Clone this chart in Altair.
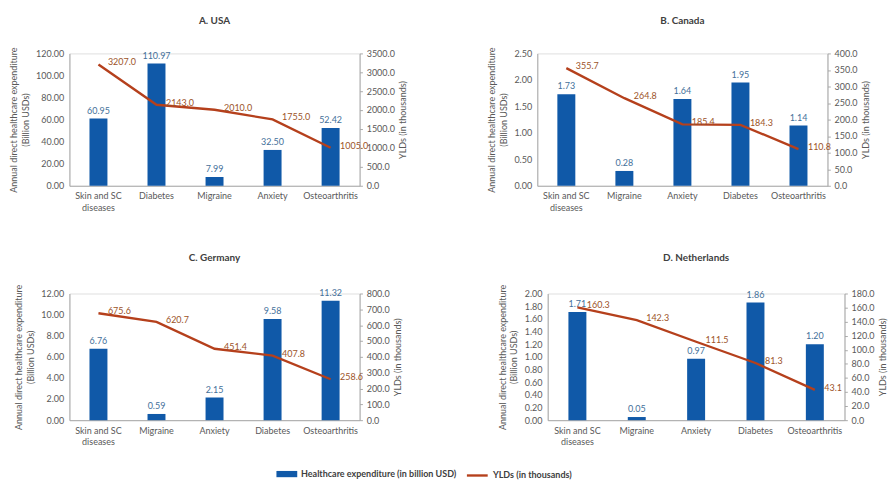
import altair as alt
import pandas as pd

# ---- data ----
titles = ["A. USA", "B. Canada", "C. Germany", "D. Netherlands"]

usa_cats = ["Skin and SC diseases", "Diabetes", "Migraine", "Anxiety", "Osteoarthritis"]
usa_exp = [60.95, 110.97, 7.99, 32.50, 52.42]
usa_yld = [3207.0, 2143.0, 2010.0, 1755.0, 1005.0]

can_cats = ["Skin and SC diseases", "Migraine", "Anxiety", "Diabetes", "Osteoarthritis"]
can_exp = [1.73, 0.28, 1.64, 1.95, 1.14]
can_yld = [355.7, 264.8, 185.4, 184.3, 110.8]

ger_cats = ["Skin and SC diseases", "Migraine", "Anxiety", "Diabetes", "Osteoarthritis"]
ger_exp = [6.76, 0.59, 2.15, 9.58, 11.32]
ger_yld = [675.6, 620.7, 451.4, 407.8, 258.6]

net_cats = ["Skin and SC diseases", "Migraine", "Anxiety", "Diabetes", "Osteoarthritis"]
net_exp = [1.71, 0.05, 0.97, 1.86, 1.20]
net_yld = [160.3, 142.3, 111.5, 81.3, 43.1]

# axis ranges (max, step) for left and right axes
left_axes = [(120, 20), (2.5, 0.5), (12, 2), (2.0, 0.2)]
right_axes = [(3500, 500), (400, 50), (800, 100), (180, 20)]

series_names = ["Healthcare expenditure (in billion USD)", "YLDs (in thousands)"]

BAR = "#1059A8"
LINE = "#B5401C"
GREY = "#595959"
FONT = "Lato"

label_expr = "datum.label == 'Skin and SC diseases' ? ['Skin and SC', 'diseases'] : datum.label"

fill_scale = alt.Scale(domain=[series_names[0]], range=[BAR])
stroke_scale = alt.Scale(domain=[series_names[1]], range=[LINE])


def ticks(mx, step):
    n = int(round(mx / step))
    return [round(i * step, 4) for i in range(n + 1)]


def panel(title, cats, exp, yld, left, right, width, height):
    df = pd.DataFrame({"cat": cats, "exp": exp, "yld": yld})
    x = alt.X("cat:N", sort=cats, title=None,
              scale=alt.Scale(paddingInner=0, paddingOuter=0),
              axis=alt.Axis(labelAngle=0, labelExpr=label_expr, ticks=False,
                            domainColor="#A6A6A6", labelColor=GREY, labelFontSize=9.5,
                            labelFont=FONT, labelPadding=6, labelLineHeight=12))
    yl = alt.Y("exp:Q", title=["Annual direct healthcare expenditure", "(Billion USDs)"],
               scale=alt.Scale(domain=[0, left[0]], nice=False),
               axis=alt.Axis(values=ticks(*left), format=".2f", grid=False, ticks=False,
                             domainColor="#A6A6A6", labelColor=GREY, titleColor=GREY,
                             labelFontSize=9.5, titleFontSize=9.5, titleFontWeight="normal",
                             titleLineHeight=12,
                             labelFont=FONT, titleFont=FONT, labelPadding=6, titlePadding=6))
    yr = alt.Y("yld:Q", title="YLDs (in thousands)",
               scale=alt.Scale(domain=[0, right[0]], nice=False),
               axis=alt.Axis(orient="right", values=ticks(*right), format=".1f", grid=False,
                             tickSize=3, tickColor="#A6A6A6", titleAngle=270,
                             titleBaseline="top",
                             domainColor="#A6A6A6", labelColor=GREY, titleColor=GREY,
                             labelFontSize=9.5, titleFontSize=9.5, titleFontWeight="normal",
                             labelFont=FONT, titleFont=FONT, labelPadding=4, titlePadding=4))
    base = alt.Chart(df)
    bars = base.mark_bar(width=19, color=BAR).encode(x=x, y=yl)
    bar_txt = base.mark_text(dy=-8, font=FONT, fontSize=9.5, color="#44709A").encode(
        x=x, y=yl, text=alt.Text("exp:Q", format=".2f"))
    left_layer = alt.layer(bars, bar_txt)
    line = base.mark_line(strokeWidth=2.5, color=LINE).encode(x=x, y=yr)
    line_txt = base.mark_text(align="left", dx=10, dy=-2, font=FONT, fontSize=9.5,
                              color="#9C5328").encode(
        x=x, y=yr, text=alt.Text("yld:Q", format=".1f"))
    right_layer = alt.layer(line, line_txt)
    return alt.layer(left_layer, right_layer).resolve_scale(y="independent").properties(
        width=width, height=height,
        title=alt.Title(title, fontSize=10.5, font=FONT, fontWeight="bold", color="#404040",
                        offset=22, anchor="middle"),
    )


pA = panel(titles[0], usa_cats, usa_exp, usa_yld, left_axes[0], right_axes[0], 307, 140)
pB = panel(titles[1], can_cats, can_exp, can_yld, left_axes[1], right_axes[1], 307, 140)
pC = panel(titles[2], ger_cats, ger_exp, ger_yld, left_axes[2], right_axes[2], 307, 134)
pD = panel(titles[3], net_cats, net_exp, net_yld, left_axes[3], right_axes[3], 314, 134)

# ---- legend row (real legends of a series colour scale) ----
leg_df = pd.DataFrame({"s_exp": [series_names[0]], "s_yld": [series_names[1]]})
legend_f = alt.Legend(title=None, orient="none", legendX=219, legendY=14,
                      symbolType="M-1,-0.3L1,-0.3L1,0.3L-1,0.3Z", symbolSize=484,
                      symbolStrokeWidth=0, symbolOpacity=1, labelLimit=0,
                      labelFont=FONT, labelFontSize=9.5, labelFontWeight="bold",
                      labelColor="#404040", padding=0)
legend_s = alt.Legend(title=None, orient="none", legendX=419, legendY=14,
                      symbolType="stroke", symbolSize=484, symbolStrokeWidth=2.5,
                      symbolOpacity=1, labelLimit=0, labelFont=FONT, labelFontSize=9.5,
                      labelFontWeight="bold", labelColor="#404040", padding=0)
leg_bar = alt.Chart(leg_df).mark_bar(opacity=0).encode(
    fill=alt.Fill("s_exp:N", scale=fill_scale, legend=legend_f))
leg_line = alt.Chart(leg_df).mark_point(opacity=0, size=0).encode(
    stroke=alt.Stroke("s_yld:N", scale=stroke_scale, legend=legend_s))
legend_row = alt.layer(leg_bar, leg_line).properties(width=600, height=1)

grid = alt.vconcat(
    alt.hconcat(pA, pB, spacing=83),
    alt.hconcat(pC, pD, spacing=99),
    spacing=43,
)

chart = alt.vconcat(grid, legend_row, spacing=4).resolve_scale(
    fill="independent", stroke="independent"
).configure_view(stroke=None).properties(
    padding={"top": -6, "left": 0, "right": 0, "bottom": 0}
).configure(background="white")

chart.save("out.html", embed_options={"renderer": "svg", "actions": False})
